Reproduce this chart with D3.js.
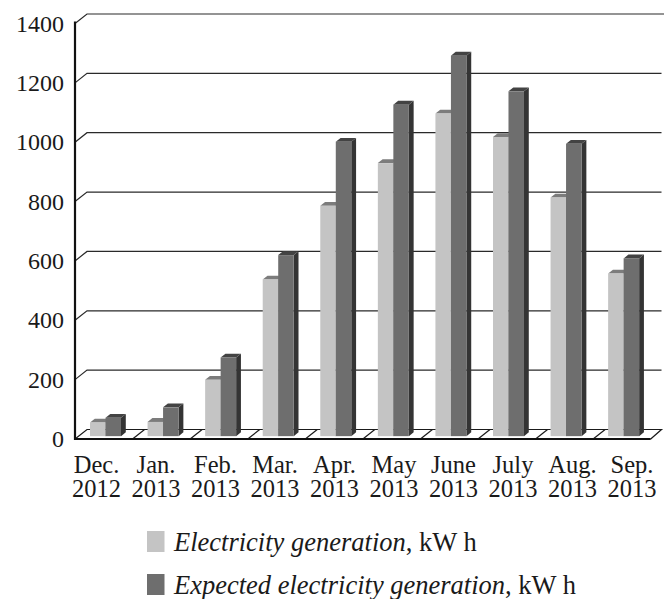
<!DOCTYPE html>
<html>
<head>
<meta charset="utf-8">
<script src="https://cdn.jsdelivr.net/npm/d3@7/dist/d3.min.js"></script>
<style>
  html, body { margin: 0; padding: 0; background: #fff; }
  svg { display: block; }
  text { font-family: "Liberation Serif", "Times New Roman", serif; fill: #1a1a1a; }
</style>
</head>
<body>
<svg id="chart" width="669" height="599"></svg>
<script>
// Monthly output of the installation, kW h
const months = ["Dec.", "Jan.", "Feb.", "Mar.", "Apr.", "May", "June", "July", "Aug.", "Sep."];
const years = ["2012", "2013", "2013", "2013", "2013", "2013", "2013", "2013", "2013", "2013"];
const actual = [46, 48, 190, 528, 776, 920, 1087, 1008, 804, 548];
const expected = [62, 97, 265, 610, 992, 1117, 1282, 1162, 985, 599];
const yTicks = [0, 200, 400, 600, 800, 1000, 1200, 1400];
const seriesNames = ["Electricity generation", "Expected electricity generation"];
const unitText = ", kW h";

const svg = d3.select("#chart");
const serif = '"Liberation Serif", "Times New Roman", serif';

// 3-D box: front plane and the depth vector to the back wall
const left = 75, right = 650.7, wallRight = 661.5;
const depthX = 12, depthY = -9.5;
const barNear = 0.3, barFar = 0.7;   // bar depth as a fraction of the floor depth

const y = d3.scaleLinear().domain([0, 1400]).range([439, 23.5]);
const x = d3.scaleBand().domain(months).range([left, right]);
const inner = d3.scaleBand().domain(seriesNames).range([11.4, 42.4]);
const labelX = d3.scaleBand().domain(months).range([66.75, 661.75]);

const colors = {
  [seriesNames[0]]: { front: "#c4c4c4", top: "#7c7c7c", side: "#8a8a8a" },
  [seriesNames[1]]: { front: "#6e6e6e", top: "#434343", side: "#343434" }
};

// back wall gridlines with their short receding segment
const grid = svg.append("g");
yTicks.filter(t => t > 0).forEach(t => {
  const yf = y(t);
  grid.append("path")
    .attr("d", `M${left},${yf} L${left + depthX},${yf + depthY} L${t === 1400 ? wallRight + 2.5 : wallRight},${yf + depthY}`)
    .attr("fill", "none").attr("stroke", "#2a2a2a").attr("stroke-width", 1.2);
});

// floor
const floor = svg.append("g");
const y0 = y(0);
floor.append("path")
  .attr("d", `M${left},${y0} L${left + depthX},${y0 + depthY} L${wallRight},${y0 + depthY} L${right},${y0}`)
  .attr("fill", "none").attr("stroke", "#1a1a1a").attr("stroke-width", 1.2);
months.forEach((m, i) => {
  if (i === 0) return;
  const xs = x(m);
  floor.append("line")
    .attr("x1", xs).attr("y1", y0).attr("x2", xs + depthX).attr("y2", y0 + depthY)
    .attr("stroke", "#1a1a1a").attr("stroke-width", 1.2);
});
floor.append("line")
  .attr("x1", left).attr("y1", y0).attr("x2", right).attr("y2", y0)
  .attr("stroke", "#111").attr("stroke-width", 2.2);

// bars: front face, top and side
const bars = svg.append("g");
const ox = depthX * barNear, oy = depthY * barNear;
const bdx = depthX * (barFar - barNear), bdy = depthY * (barFar - barNear);
const w = inner.bandwidth();
months.forEach((m, i) => {
  [[seriesNames[0], actual[i]], [seriesNames[1], expected[i]]].forEach(([s, v]) => {
    const c = colors[s];
    const x0 = x(m) + ox + inner(s);
    const yb = y(0) + oy, yt = y(v) + oy;
    const g = bars.append("g");
    g.append("path")
      .attr("d", `M${x0 + w},${yb} L${x0 + w + bdx},${yb + bdy} L${x0 + w + bdx},${yt + bdy} L${x0 + w},${yt}Z`)
      .attr("fill", c.side);
    g.append("path")
      .attr("d", `M${x0},${yt} L${x0 + bdx},${yt + bdy} L${x0 + w + bdx},${yt + bdy} L${x0 + w},${yt}Z`)
      .attr("fill", c.top);
    g.append("rect")
      .attr("x", x0).attr("y", yt).attr("width", w).attr("height", yb - yt)
      .attr("fill", c.front);
  });
});

// vertical axis
svg.append("line")
  .attr("x1", left).attr("y1", y(1400) - 2).attr("x2", left).attr("y2", y0 + 1)
  .attr("stroke", "#111").attr("stroke-width", 2.2);

const yAxis = d3.axisLeft(y).tickValues(yTicks).tickSize(0).tickPadding(11).tickFormat(d3.format("d"));
svg.append("g").attr("transform", `translate(${left},0)`).call(yAxis)
  .attr("font-family", serif).attr("font-size", 24)
  .call(g => g.select(".domain").remove())
  .selectAll("text")
  .style("font-family", serif)
  .style("font-size", "24px").attr("fill", "#1a1a1a");

// category labels on two lines
const xl = svg.append("g");
months.forEach((m, i) => {
  const cx = labelX(m) + labelX.bandwidth() / 2;
  xl.append("text").attr("text-anchor", "middle").style("font-size", "24.5px")
    .attr("x", cx).attr("y", 473).text(m);
  xl.append("text").attr("text-anchor", "middle").style("font-size", "24.5px")
    .attr("x", cx).attr("y", 497).text(years[i]);
});

// legend
const legend = svg.append("g");
seriesNames.forEach((s, i) => {
  const ly = 531 + i * 43;
  legend.append("rect").attr("x", 147).attr("y", ly).attr("width", 17.5).attr("height", 21)
    .attr("fill", colors[s].front);
  const t = legend.append("text").attr("x", 174).attr("y", ly + 19.5).style("font-size", "26.5px");
  t.append("tspan").style("font-style", "italic").text(s);
  t.append("tspan").text(unitText);
});
</script>
</body>
</html>
